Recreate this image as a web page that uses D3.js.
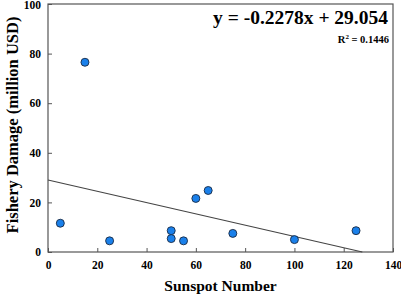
<!DOCTYPE html>
<html>
<head>
<meta charset="utf-8">
<script src="https://cdn.jsdelivr.net/npm/d3@7"></script>
<style>
  body { margin: 0; background: #fff; }
  text { font-family: "Liberation Serif", "Times New Roman", serif; font-weight: bold; }
</style>
</head>
<body>
<div id="chart"></div>
<script>
// Data
const sunspots = [5, 15, 25, 50, 50, 55, 60, 65, 75, 100, 125]
const damage = [11.6, 76.5, 4.5, 8.6, 5.4, 4.5, 21.6, 24.8, 7.5, 5.0, 8.6]
const slope = -0.2278
const intercept = 29.054
const r2 = 0.1446
const xTicks = [0, 20, 40, 60, 80, 100, 120, 140]
const yTicks = [0, 20, 40, 60, 80, 100]

function draw() {
  let dimensions = {
    width: 401,
    height: 298,
    margins: { top: 4, right: 8, bottom: 46, left: 48 },
  }
  dimensions.ctrWidth = dimensions.width - dimensions.margins.left - dimensions.margins.right
  dimensions.ctrHeight = dimensions.height - dimensions.margins.top - dimensions.margins.bottom

  const svg = d3.select('#chart')
    .append('svg')
    .attr('width', dimensions.width)
    .attr('height', dimensions.height)

  const ctr = svg.append('g')
    .attr('transform', `translate(${dimensions.margins.left}, ${dimensions.margins.top})`)

  // Scales
  const xScale = d3.scaleLinear().domain([0, 140]).range([0, dimensions.ctrWidth])
  const yScale = d3.scaleLinear().domain([0, 100]).range([dimensions.ctrHeight, 0])

  // Axes (ticks point inward)
  const xAxis = d3.axisBottom(xScale).tickValues(xTicks).tickSizeInner(-4).tickSizeOuter(0).tickPadding(9)
  const yAxis = d3.axisLeft(yScale).tickValues(yTicks).tickSizeInner(-4).tickSizeOuter(0).tickPadding(7)

  const xG = ctr.append('g')
    .attr('transform', `translate(0, ${dimensions.ctrHeight})`)
    .call(xAxis)
  const yG = ctr.append('g').call(yAxis)

  ;[xG, yG].forEach(g => {
    g.select('.domain').remove()
    g.selectAll('line').attr('stroke', '#555')
    g.selectAll('text').attr('font-size', 11.5).attr('fill', '#000')
      .style('font-family', '"Liberation Serif", serif').style('font-weight', 'bold')
  })
  // keep the top label inside the picture
  yG.selectAll('.tick text').filter(d => d === 100).attr('dy', '0.42em')

  // Frame
  ctr.append('rect')
    .attr('width', dimensions.ctrWidth)
    .attr('height', dimensions.ctrHeight)
    .attr('fill', 'none')
    .attr('stroke', '#555')
    .attr('stroke-width', 1.2)

  // Trend line, clipped at y = 0
  const xEnd = -intercept / slope
  ctr.append('line')
    .attr('x1', xScale(0))
    .attr('y1', yScale(intercept))
    .attr('x2', xScale(xEnd))
    .attr('y2', yScale(0))
    .attr('stroke', '#444')
    .attr('stroke-width', 1.1)

  // Points
  ctr.selectAll('circle')
    .data(d3.zip(sunspots, damage))
    .join('circle')
    .attr('cx', d => xScale(d[0]))
    .attr('cy', d => yScale(d[1]))
    .attr('r', 4)
    .attr('fill', '#1a80ea')
    .attr('stroke', '#1a2a44')
    .attr('stroke-width', 0.9)

  // Equation
  ctr.append('text')
    .attr('x', dimensions.ctrWidth - 5)
    .attr('y', 20)
    .attr('text-anchor', 'end')
    .attr('font-size', 19.5)
    .text(`y = ${slope}x + ${intercept.toFixed(3)}`)

  const r2Text = ctr.append('text')
    .attr('x', dimensions.ctrWidth - 4)
    .attr('y', 39)
    .attr('text-anchor', 'end')
    .attr('font-size', 10.5)
  r2Text.append('tspan').text('R')
  r2Text.append('tspan').attr('dy', -4).attr('font-size', 7).text('2')
  r2Text.append('tspan').attr('dy', 4).text(` = ${r2}`)

  // Axis titles
  svg.append('text')
    .attr('x', dimensions.margins.left + dimensions.ctrWidth / 2)
    .attr('y', 291)
    .attr('text-anchor', 'middle')
    .attr('font-size', 15.5)
    .text('Sunspot Number')

  svg.append('text')
    .attr('transform', `translate(18, 125) rotate(-90)`)
    .attr('text-anchor', 'middle')
    .attr('font-size', 16.5)
    .text('Fishery Damage (million USD)')
}

draw()
</script>
</body>
</html>
